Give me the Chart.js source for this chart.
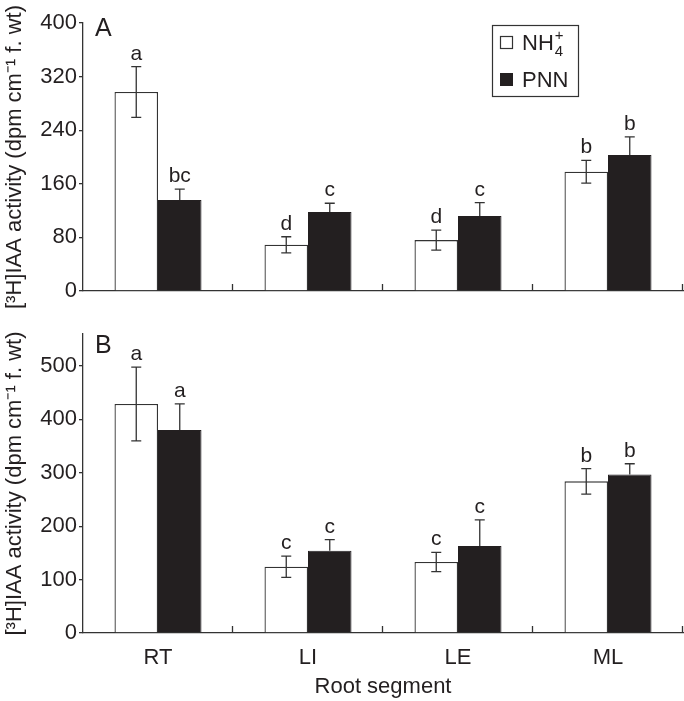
<!DOCTYPE html>
<html>
<head>
<meta charset="utf-8">
<script src="https://cdn.jsdelivr.net/npm/chart.js@4.4.0/dist/chart.umd.min.js"></script>
<style>
body { margin: 0; background: #fff; }
#wrapA { position: absolute; left: 0; top: 0; width: 684px; height: 312px; }
#wrapB { position: absolute; left: 0; top: 312px; width: 684px; height: 389px; }
</style>
</head>
<body>
<div id="wrapA"><canvas id="chartA"></canvas></div>
<div id="wrapB"><canvas id="chartB"></canvas></div>
<script>
const segments = ['RT', 'LI', 'LE', 'ML'];

// panel A
const nh4A = [297, 69, 76, 178];
const nh4ErrA = [38, 12, 15, 17];
const pnnA = [136, 118, 112, 203];
const pnnErrA = [16, 13, 20, 27];
const nh4LettersA = ['a', 'd', 'd', 'b'];
const pnnLettersA = ['bc', 'c', 'c', 'b'];
const ticksA = [0, 80, 160, 240, 320, 400];

// panel B
const nh4B = [429, 124, 133, 284];
const nh4ErrB = [69, 20, 18, 24];
const pnnB = [380, 154, 163, 297];
const pnnErrB = [49, 21, 49, 20];
const nh4LettersB = ['a', 'c', 'c', 'b'];
const pnnLettersB = ['a', 'c', 'c', 'b'];
const ticksB = [0, 100, 200, 300, 400, 500];

const ink = '#231f20';
const axisCol = '#333';
const fam = '"Liberation Sans", Arial, Helvetica, sans-serif';
Chart.defaults.font.family = fam;
Chart.defaults.color = ink;

// error bars, letters, panel label, legend, category ticks
const annot = {
    id: 'annot',
    afterDatasetsDraw(chart, args, opts) {
        const ctx = chart.ctx;
        const y = chart.scales.y;
        const area = chart.chartArea;
        ctx.save();
        chart.data.datasets.forEach((ds, i) => {
            chart.getDatasetMeta(i).data.forEach((bar, j) => {
                const v = ds.data[j], e = ds.errors[j];
                const yt = y.getPixelForValue(v + e);
                const yb = y.getPixelForValue(v - e);
                const yv = y.getPixelForValue(v);
                ctx.strokeStyle = axisCol;
                ctx.lineWidth = 1.3;
                ctx.beginPath();
                ctx.moveTo(bar.x, ds.solid ? yv : yb); ctx.lineTo(bar.x, yt);
                ctx.moveTo(bar.x - 5, yt); ctx.lineTo(bar.x + 5, yt);
                if (!ds.solid) { ctx.moveTo(bar.x - 5, yb); ctx.lineTo(bar.x + 5, yb); }
                ctx.stroke();
                ctx.fillStyle = ink;
                ctx.font = '21px ' + fam;
                ctx.textAlign = 'center';
                ctx.textBaseline = 'alphabetic';
                ctx.fillText(ds.letters[j], bar.x, yt - 7);
            });
        });
        // upward ticks between categories
        const w = (area.right - area.left) / segments.length;
        ctx.strokeStyle = axisCol;
        ctx.lineWidth = 1.3;
        ctx.beginPath();
        for (let k = 1; k <= segments.length; k++) {
            const xk = Math.round(area.left + k * w) - 0.5;
            ctx.moveTo(xk, area.bottom);
            ctx.lineTo(xk, area.bottom - 7);
        }
        ctx.stroke();
        // panel letter
        ctx.fillStyle = ink;
        ctx.font = '25px ' + fam;
        ctx.textAlign = 'left';
        ctx.textBaseline = 'alphabetic';
        ctx.fillText(opts.panel, area.left + 12, opts.panelBase);
        // legend
        if (opts.legend) {
            const lx = area.right - 191, ly = 25;
            ctx.lineWidth = 1.2;
            ctx.strokeStyle = axisCol;
            ctx.strokeRect(lx + 0.5, ly + 0.5, 86, 71);
            ctx.strokeRect(lx + 8.5, ly + 11.5, 12, 12);
            ctx.fillStyle = ink;
            ctx.fillRect(lx + 8, ly + 48, 13, 13);
            ctx.font = '22px ' + fam;
            ctx.fillText('NH', lx + 30, ly + 25);
            const nw = ctx.measureText('NH').width;
            ctx.font = '15px ' + fam;
            ctx.fillText('4', lx + 31 + nw, ly + 31);
            ctx.fillText('+', lx + 31 + nw, ly + 15);
            ctx.font = '22px ' + fam;
            ctx.fillText('PNN', lx + 30, ly + 62);
        }
        ctx.restore();
    }
};

function makeChart(id, cfg) {
    return new Chart(document.getElementById(id).getContext('2d'), {
        type: 'bar',
        data: {
            labels: segments,
            datasets: [{
                label: 'NH4+',
                data: cfg.nh4,
                errors: cfg.nh4Err,
                letters: cfg.nh4Letters,
                solid: false,
                backgroundColor: '#fff',
                borderColor: axisCol,
                borderWidth: 1.3
            }, {
                label: 'PNN',
                data: cfg.pnn,
                errors: cfg.pnnErr,
                letters: cfg.pnnLetters,
                solid: true,
                backgroundColor: ink,
                borderColor: ink,
                borderWidth: 1
            }]
        },
        options: {
            responsive: true,
            maintainAspectRatio: false,
            animation: false,
            categoryPercentage: 0.58,
            barPercentage: 1,
            layout: { padding: { top: cfg.padTop, right: 1, left: 0, bottom: 0 } },
            plugins: {
                legend: { display: false },
                tooltip: { enabled: false },
                annot: { panel: cfg.panel, panelBase: cfg.panelBase, legend: cfg.legend }
            },
            scales: {
                x: {
                    offset: true,
                    grid: { display: false },
                    border: { display: true, color: axisCol, width: 1.3 },
                    ticks: { display: cfg.showX, font: { size: 22 }, color: ink, padding: 4 },
                    title: {
                        display: cfg.showX,
                        text: 'Root segment',
                        font: { size: 22 },
                        color: ink,
                        padding: { top: 0, bottom: 1 }
                    },
                    afterFit(s) { s.height = cfg.xHeight; }
                },
                y: {
                    min: 0,
                    max: cfg.yMax,
                    afterBuildTicks(s) { s.ticks = cfg.ticks.map(v => ({ value: v })); },
                    grid: { drawOnChartArea: false, tickLength: 4, color: axisCol, lineWidth: 1.3 },
                    border: { color: axisCol, width: 1.3 },
                    ticks: { font: { size: 22 }, color: ink, padding: 2 },
                    title: {
                        display: true,
                        text: '[³H]IAA activity (dpm cm⁻¹ f. wt)',
                        font: { size: 22 },
                        color: ink,
                        padding: { top: 2, bottom: 0 }
                    },
                    afterFit(s) { s.width = 83; }
                }
            }
        },
        plugins: [annot]
    });
}

const chartA = makeChart('chartA', {
    nh4: nh4A, nh4Err: nh4ErrA, nh4Letters: nh4LettersA,
    pnn: pnnA, pnnErr: pnnErrA, pnnLetters: pnnLettersA,
    yMax: 400, ticks: ticksA, showX: false,
    padTop: 23, xHeight: 21, panel: 'A', panelBase: 36, legend: true
});

const chartB = makeChart('chartB', {
    nh4: nh4B, nh4Err: nh4ErrB, nh4Letters: nh4LettersB,
    pnn: pnnB, pnnErr: pnnErrB, pnnLetters: pnnLettersB,
    yMax: 560, ticks: ticksB, showX: true,
    padTop: 22, xHeight: 68, panel: 'B', panelBase: 41, legend: false
});
</script>
</body>
</html>
